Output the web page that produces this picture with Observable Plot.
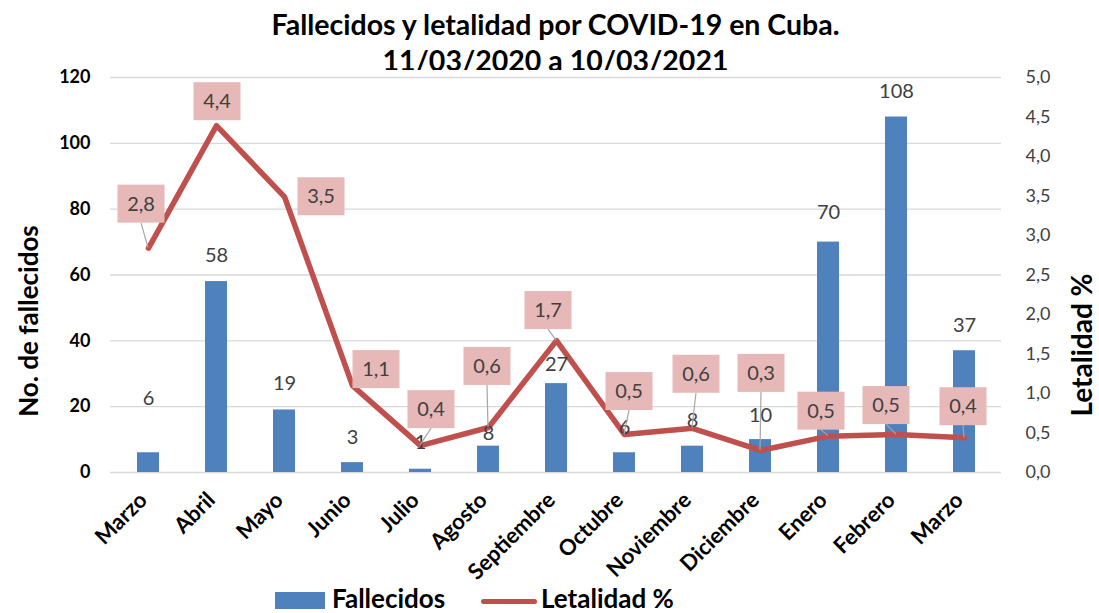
<!DOCTYPE html>
<html>
<head>
<meta charset="utf-8">
<script src="https://cdn.jsdelivr.net/npm/d3@7"></script>
<script src="https://cdn.jsdelivr.net/npm/@observablehq/plot@0.6"></script>
<style>
  html, body { margin: 0; padding: 0; background: #fff; }
  #wrap { position: relative; width: 1099px; height: 613px; overflow: hidden; font-family: Lato, "Open Sans", sans-serif; }
  #title { position: absolute; left: 0; top: 6px; width: 1111px; text-align: center; font-weight: bold; font-size: 28.5px; line-height: 36px; color: #000; }
  #chart { position: absolute; left: 0; top: 70px; }
  #legend { position: absolute; left: 0; top: 585px; width: 1099px; height: 27px; }
  .lg { position: absolute; font-weight: bold; font-size: 26px; color: #000; line-height: 26px; top: 0px; }
</style>
</head>
<body>
<div id="wrap">
  <div id="title">Fallecidos y letalidad por COVID-19 en Cuba.<br>11/03/2020 a 10/03/2021</div>
  <div id="chart"></div>
  <div id="legend">
    <div style="position:absolute;left:275px;top:7px;width:50px;height:17px;background:#4f81bd"></div>
    <div class="lg" style="left:332px">Fallecidos</div>
    <div style="position:absolute;left:481px;top:14px;width:56px;height:5px;border-radius:3px;background:#c0504d"></div>
    <div class="lg" style="left:541px">Letalidad %</div>
  </div>
</div>
<script>
const months = ["Marzo","Abril","Mayo","Junio","Julio","Agosto","Septiembre","Octubre","Noviembre","Diciembre","Enero","Febrero","Marzo"];
const fallecidos = [6, 58, 19, 3, 1, 8, 27, 6, 8, 10, 70, 108, 37];
const letalidad = [2.84, 4.39, 3.49, 1.10, 0.34, 0.57, 1.67, 0.48, 0.56, 0.28, 0.46, 0.48, 0.44];
const letalidadLabels = ["2,8","4,4","3,5","1,1","0,4","0,6","1,7","0,5","0,6","0,3","0,5","0,5","0,4"];
const leftTicks = [0, 20, 40, 60, 80, 100, 120];
const rightTicks = [0, 0.5, 1, 1.5, 2, 2.5, 3, 3.5, 4, 4.5, 5];

// label placement (pixel offsets, style only)
const barLabelDy = [-54, -26, -26, -25, -27, -13, -19, -25, -26, -24, -29, -25, -25];
const lineLabelOffsets = [[-7,-44],[1,-24],[37,0],[24,-16],[11,-36],[-1,-61],[-8,-30],[5,-43],[4,-54],[1,-77],[-7,-25],[-10,-29],[-1,-31]];

const ratio = 120 / 5;
const data = months.map((m, i) => ({k: i, m, f: fallecidos[i], l: letalidad[i], ls: letalidadLabels[i]}));

const W = 1099, H = 515;
const mL = 110, mR = 98, mT = 7, mB = 113;

function lineLabels(index, scales, values, dimensions) {
  const g = d3.create("svg:g");
  const x = scales.x, y = scales.y;
  let bw = x.bandwidth;
  if (typeof bw === "function") bw = bw();
  if (bw == null) bw = (dimensions.width - dimensions.marginLeft - dimensions.marginRight) / months.length;
  const bw2 = 50, bh = 38;
  data.forEach((d, i) => {
    const px = x(d.k) + bw / 2;
    const py = y(d.l * ratio);
    const [dx, dy] = lineLabelOffsets[i];
    const cx = px + dx, cy = py + dy;
    if (py - (cy + bh / 2) > 5) {
      g.append("line")
        .attr("x1", cx).attr("y1", cy + bh / 2)
        .attr("x2", px).attr("y2", py)
        .attr("stroke", "#a6a6a6").attr("stroke-width", 1.2);
    }
    g.append("rect")
      .attr("x", cx - bw2 / 2 + 1.5).attr("y", cy - bh / 2)
      .attr("width", bw2 - 3).attr("height", bh)
      .attr("fill", "#e6b9b8");
    g.append("text")
      .attr("x", cx).attr("y", cy)
      .attr("text-anchor", "middle").attr("dy", "0.36em")
      .attr("font-size", 20).attr("fill", "#404040")
      .attr("font-family", "Lato, sans-serif")
      .text(d.ls);
  });
  return g.node();
}

const chart = Plot.plot({
  width: W, height: H,
  marginLeft: mL, marginRight: mR, marginTop: mT, marginBottom: mB,
  style: {fontFamily: "Lato, sans-serif", background: "#fff", overflow: "visible"},
  x: {type: "band", domain: d3.range(months.length), padding: 0},
  y: {domain: [0, 120]},
  marks: [
    Plot.ruleY(leftTicks, {stroke: "#d9d9d9", strokeWidth: 1.3}),
    Plot.barY(data, {x: "k", y: "f", fill: "#4f81bd", insetLeft: 23, insetRight: 23}),
    Plot.lineY(data, {x: "k", y: d => d.l * ratio, stroke: "#c0504d", strokeWidth: 5.5, strokeLinejoin: "round", strokeLinecap: "round"}),
    ...data.map((d, i) => Plot.text([d], {x: "k", y: "f", text: d => String(d.f), dy: barLabelDy[i], fontSize: 20, fill: "#404040"})),
    lineLabels,
    Plot.axisX({tickRotate: -45, tickSize: 0, tickPadding: 24, dx: -5, tickFormat: i => months[i], fontWeight: "bold", fontSize: 22, fill: "#000", label: null}),
    Plot.axisY(leftTicks, {anchor: "left", tickSize: 0, tickPadding: 20, fontWeight: "bold", fontSize: 18, fill: "#000", label: null}),
    Plot.axisY(rightTicks.map(v => v * ratio), {anchor: "right", tickSize: 0, tickPadding: 24, tickFormat: v => (v / ratio).toFixed(1).replace(".", ","), fontSize: 18, fill: "#404040", label: null}),
    Plot.text(["No. de fallecidos"], {frameAnchor: "left", rotate: -90, dx: -81, dy: 46, textAnchor: "middle", lineAnchor: "middle", fontWeight: "bold", fontSize: 26, fill: "#000"}),
    Plot.text(["Letalidad %"], {frameAnchor: "right", rotate: -90, dx: 82, dy: 70, textAnchor: "middle", lineAnchor: "middle", fontWeight: "bold", fontSize: 28, fill: "#000"})
  ]
});
document.getElementById("chart").appendChild(chart);
</script>
</body>
</html>
